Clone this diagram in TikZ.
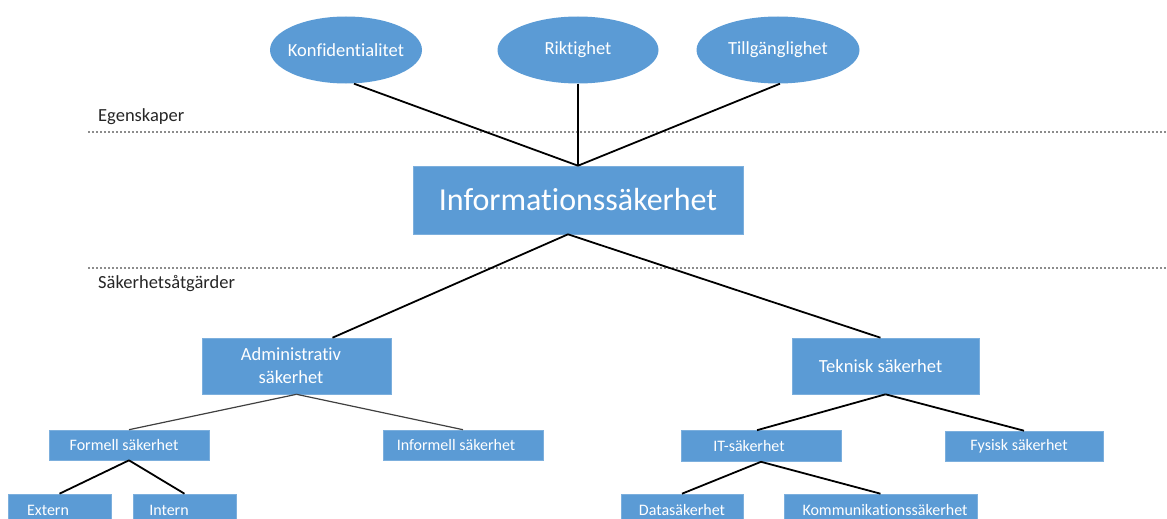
\documentclass[tikz,border=0pt]{standalone}
\usepackage{fontspec}
\setmainfont{Carlito}[Ligatures=NoCommon]
\usetikzlibrary{shapes.geometric}
\definecolor{boxblue}{HTML}{5B9BD5}
\begin{document}
\begin{tikzpicture}[x=1pt,y=-1pt,
  bx/.style={draw=boxblue!80!white,line width=0.6pt,fill=boxblue,text=white,inner sep=0pt,align=center},
  ov/.style={ellipse,fill=boxblue,text=white,inner sep=0pt,font=\fontsize{18.5}{22}\selectfont},
  sm/.style={bx,minimum height=30pt,font=\fontsize{16}{18}\selectfont},
  low/.style={bx,minimum height=42pt,text height=10pt,text depth=10pt,font=\fontsize{16}{18}\selectfont},
  md/.style={bx,minimum height=56pt,font=\fontsize{18.5}{23}\selectfont},
  conn/.style={line width=1.8pt,black},
  connthin/.style={line width=1.2pt,black!75},
  sep/.style={draw=black!45,line width=1.2pt,dash pattern=on 2pt off 2pt},
  lbl/.style={anchor=west,inner sep=0pt,font=\fontsize{18.5}{22}\selectfont,text=black!85}]
\useasboundingbox (0,0) rectangle (1167,519);
% separators
\coordinate (s1a) at (88,132); \coordinate (s1b) at (1167,132);
\coordinate (s2a) at (88,268); \coordinate (s2b) at (1167,268);
\draw[sep] (s1a) -- (s1b);
\draw[sep] (s2a) -- (s2b);
\node[lbl] (egen) at (98,117) {Egenskaper};
\node[lbl] (atg) at (98,284) {Säkerhetsåtgärder};
% properties
\node[ov,minimum width=152pt,minimum height=67pt] (konf) at (346,50) {\makebox[0pt]{Konfidentialitet}};
\node[ov,minimum width=161pt,minimum height=67pt] (rikt) at (578,50) {\makebox[0pt]{Riktighet}};
\node[ov,minimum width=163pt,minimum height=67pt] (till) at (778,50) {\makebox[0pt]{Tillgänglighet}};
% main
\node[bx,minimum width=330pt,minimum height=68pt,font=\fontsize{32}{36}\selectfont] (info) at (578,200) {Informationssäkerhet};
\draw[conn] ([xshift=8pt]konf.south) -- (info.north);
\draw[conn] (rikt.south) -- (info.north);
\draw[conn] ([xshift=2pt]till.south) -- (info.north);
% level 2
\node[md,minimum width=189pt] (adm) at (296.5,366) {Administrativ\hspace*{11pt}\\säkerhet\hspace*{11pt}};
\node[md,minimum width=187pt] (tek) at (885.5,366) {Teknisk säkerhet\hspace*{10pt}};
\draw[conn] ([xshift=-10pt]info.south) -- ([xshift=36pt]adm.north);
\draw[conn] ([xshift=-10pt]info.south) -- ([xshift=-5pt]tek.north);
% level 3
\node[sm,minimum width=160pt] (form) at (129,445) {Formell säkerhet\hspace*{10pt}};
\node[sm,minimum width=160pt] (inf) at (463,445) {Informell säkerhet\hspace*{14pt}};
\node[sm,minimum width=160pt,minimum height=31pt] (it) at (761,446) {IT-säkerhet\hspace*{24pt}};
\node[sm,minimum width=158pt] (fys) at (1024,446) {Fysisk säkerhet\hspace*{10pt}};
\draw[connthin] (adm.south) -- (form.north);
\draw[connthin] (adm.south) -- (inf.north);
\draw[conn] (tek.south) -- ([xshift=-4pt]it.north);
\draw[conn] (tek.south) -- (fys.north);
% level 4
\node[low,minimum width=103pt] (ext) at (59.5,515) {Extern\hspace*{23pt}};
\node[low,minimum width=103pt] (int) at (184.5,515) {Intern\hspace*{31pt}};
\node[low,minimum width=122pt] (data) at (682,515) {Datasäkerhet};
\node[low,minimum width=193pt] (komm) at (880.5,515) {\hspace*{9pt}Kommunikationssäkerhet};
\draw[conn] (form.south) -- (ext.north);
\draw[conn] (form.south) -- (int.north);
\draw[conn] (it.south) -- (data.north);
\draw[conn] (it.south) -- (komm.north);
\end{tikzpicture}
\end{document}
